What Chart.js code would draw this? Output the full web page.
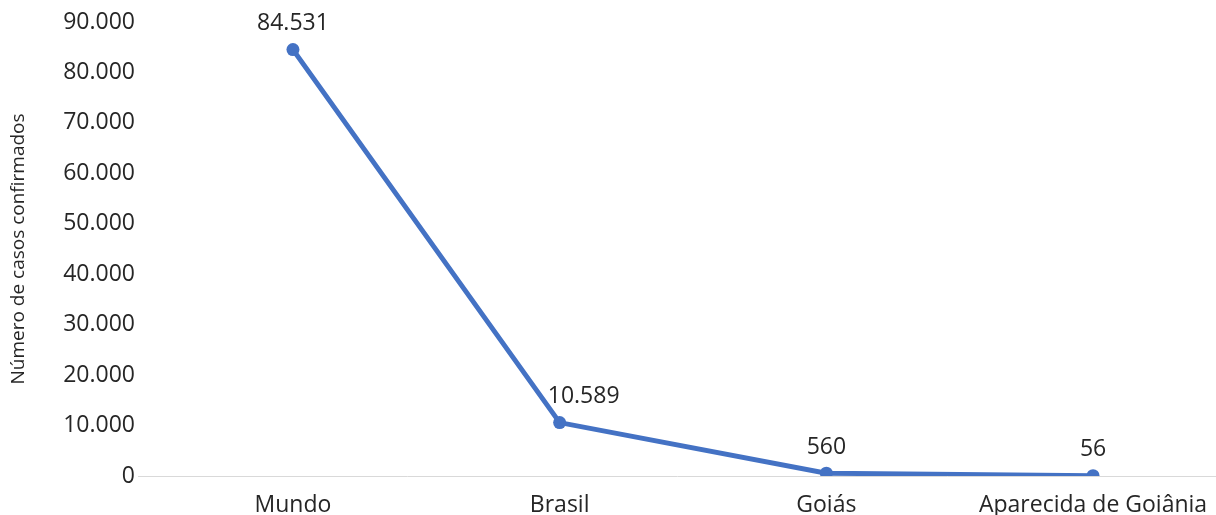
<!DOCTYPE html>
<html lang="pt-BR">
<head>
<meta charset="utf-8">
<title>Número de casos confirmados</title>
<script src="https://cdn.jsdelivr.net/npm/chart.js@4/dist/chart.umd.min.js"></script>
<style>
  html, body { margin: 0; padding: 0; background: #fff; }
  #wrap { width: 1216px; height: 515px; position: relative; }
</style>
</head>
<body>
<div id="wrap"><canvas id="casesChart"></canvas></div>
<script>
// Casos confirmados por região
const regions = ["Mundo", "Brasil", "Goiás", "Aparecida de Goiânia"];
const confirmedCases = [84531, 10589, 560, 56];
const yTicks = [0, 10000, 20000, 30000, 40000, 50000, 60000, 70000, 80000, 90000];

// pt-BR thousands separator
function formatNumber(n) {
  return String(Math.round(n)).replace(/\B(?=(\d{3})+(?!\d))/g, ".");
}

const textColor = "#262626";
const fontFamily = "'Open Sans', 'Noto Sans', sans-serif";

// draws the value above each point
const valueLabels = {
  id: "valueLabels",
  afterDatasetsDraw(chart, args, opts) {
    const ctx = chart.ctx;
    const meta = chart.getDatasetMeta(0);
    ctx.save();
    ctx.font = "23px " + fontFamily;
    ctx.fillStyle = textColor;
    ctx.textAlign = "center";
    ctx.textBaseline = "middle";
    meta.data.forEach(function (pt, i) {
      const shift = opts.shiftX[i] || 0;
      ctx.fillText(formatNumber(confirmedCases[i]), pt.x + shift, pt.y - 26);
    });
    ctx.restore();
  }
};

const ctx = document.getElementById("casesChart").getContext("2d");

new Chart(ctx, {
  type: "line",
  data: {
    datasets: [
      {
        data: confirmedCases.map(function (v, i) { return { x: i, y: v }; }),
        borderColor: "#4472C4",
        backgroundColor: "#4472C4",
        borderWidth: 5,
        pointRadius: 6.5,
        pointBorderWidth: 0,
        pointBackgroundColor: "#4472C4",
        tension: 0,
        fill: false,
      },
    ],
  },
  options: {
    responsive: true,
    maintainAspectRatio: false,
    animation: false,
    // no extra room for point overflow: the axis line runs to the right edge
    layout: { autoPadding: false, padding: { top: 22, right: 0, bottom: 0, left: 0 } },
    plugins: {
      legend: { display: false },
      tooltip: { enabled: false },
      valueLabels: { shiftX: [0, 24, 0, 0] },
    },
    scales: {
      x: {
        type: "linear",
        min: -0.581,
        max: 3.461,
        grid: { display: false, drawTicks: false },
        border: { display: true, color: "#d9d9d9", width: 1 },
        afterFit: function (scale) {
          scale.height = 39;
          scale.paddingLeft = 0;
          scale.paddingRight = 0;
        },
        afterBuildTicks: function (scale) {
          scale.ticks = regions.map(function (r, i) { return { value: i }; });
        },
        ticks: {
          padding: 16,
          color: textColor,
          font: { family: fontFamily, size: 23 },
          maxRotation: 0,
          autoSkip: false,
          callback: function (value) { return regions[value]; },
        },
      },
      y: {
        min: 0,
        max: 90000,
        grid: { display: false, drawTicks: false },
        border: { display: false },
        afterFit: function (scale) {
          scale.width = 138;
          scale.paddingTop = 0;
          scale.paddingBottom = 0;
        },
        afterBuildTicks: function (scale) {
          scale.ticks = yTicks.map(function (v) { return { value: v }; });
        },
        title: {
          display: true,
          text: "Número de casos confirmados",
          color: textColor,
          font: { family: fontFamily, size: 19 },
          padding: { top: 7, bottom: 0 },
        },
        ticks: {
          padding: 3,
          color: textColor,
          font: { family: fontFamily, size: 23 },
          callback: function (value) { return formatNumber(value); },
        },
      },
    },
  },
  plugins: [valueLabels],
});
</script>
</body>
</html>
